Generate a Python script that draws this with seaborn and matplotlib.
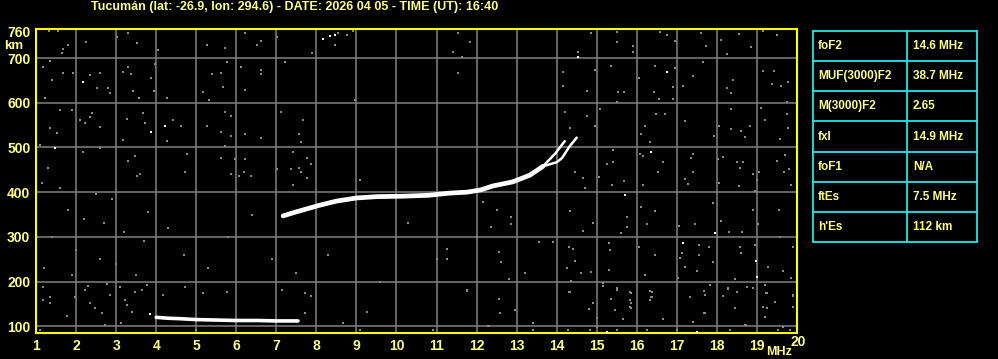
import numpy as np
import pandas as pd
import matplotlib
matplotlib.use("Agg")
import matplotlib.pyplot as plt
import seaborn as sns

# ---------------- data ----------------
title_text = "Tucumán (lat: -26.9, lon: 294.6) - DATE: 2026 04 05 - TIME (UT): 16:40"

x_ticks = list(range(1, 21))
y_ticks = [100, 200, 300, 400, 500, 600, 700, 760]

# F2 trace (ordinary, main body)
f2_freq = [7.17, 7.5, 8.09, 8.5, 9.0, 9.5, 10.16, 10.8, 11.34, 11.76, 12.1, 12.41, 12.9, 13.33, 13.66]
f2_height = [347, 356, 371, 380, 387, 390, 391, 393, 398, 400, 405, 414, 423, 438, 458]
# upper split branches near foF2 / fxI
br1_freq = [13.66, 13.98, 14.13, 14.2]
br1_height = [458, 488, 506, 514]
br2_freq = [13.66, 14.0, 14.13, 14.31, 14.5]
br2_height = [458, 467, 476, 501, 522]
# sporadic E trace
es_freq = [4.0, 4.3, 4.6, 5.0, 5.5, 6.0, 6.5, 7.0, 7.54]
es_height = [120, 118, 117, 115, 114, 113, 113, 112, 112]

# background noise (grey)
noise_freq = [
    3.30, 3.17, 3.97, 3.37, 3.87, 3.42, 3.95, 4.27, 3.57, 3.67, 3.27, 3.72, 4.42, 4.62, 4.27, 3.17, 4.77, 4.72, 3.47, 3.52,
    5.39, 5.62, 5.67, 5.17, 5.32, 5.77, 6.12, 6.62, 6.62, 6.22, 5.72, 5.87, 5.27, 5.62, 5.87, 5.72, 6.22, 6.62, 5.62, 5.97,
    6.22, 5.87, 6.19, 6.07, 6.37, 7.22, 7.12, 7.67, 7.57, 7.62, 7.42, 7.77, 7.87, 7.37, 7.57, 7.62, 7.77, 7.42, 7.02, 8.97,
    9.09, 11.54,
    12.16, 12.51, 12.86, 12.86, 12.36, 11.26, 11.26, 12.56, 12.61, 13.21, 12.81, 11.76, 12.56, 12.59, 12.96, 12.31, 13.56, 13.91,
    14.33, 14.66, 14.91, 14.31, 14.41, 14.46, 14.26, 14.61, 14.86, 14.36, 14.31, 14.91, 14.81, 15.01, 15.31, 15.33, 15.31, 15.16,
    15.51, 15.36, 15.46, 15.66, 15.76, 15.76, 15.61, 16.11, 16.26, 16.46, 16.06, 16.46, 16.21, 16.33, 16.36, 15.86, 15.86, 15.86,
    16.66, 17.06, 17.46, 17.91, 17.13, 17.08, 17.21, 17.56, 17.81, 17.56, 17.51, 17.91, 17.03, 17.68, 17.33, 17.68, 17.41, 18.11,
    18.31, 18.63, 18.90, 19.03, 18.58, 18.60, 18.95, 19.28, 19.65, 19.55, 19.58, 19.90, 19.85, 18.45, 18.90, 19.23, 19.45, 19.15,
    19.20, 19.90, 18.45, 18.73, 19.65, 18.28, 18.15,
    1.33, 1.55, 1.67, 1.79, 1.35, 1.65, 1.92, 1.17, 1.67, 2.25, 1.40, 2.35, 2.60, 2.52, 2.80, 2.85, 1.22, 1.60, 1.90, 1.35,
    2.10, 2.35, 2.40, 2.60, 2.22, 1.52, 1.10, 2.17, 2.60,
    1.17, 1.35, 1.35, 1.17, 1.77, 1.97, 2.35, 2.47, 2.65, 2.72, 2.22, 2.30, 2.77, 2.85, 3.10, 3.22, 3.27, 3.40, 3.12, 3.47,
    3.65, 3.77, 4.17, 4.17, 4.72, 5.17, 5.77, 7.14, 7.72, 7.87, 7.72, 9.26, 8.67, 11.76, 12.29,
    14.86, 15.51, 15.51, 15.91, 15.91, 16.58, 16.76, 16.96, 17.61, 17.73, 18.10, 18.55, 18.85, 19.15, 19.50, 18.25, 14.53, 14.16,
    14.96, 15.36, 16.06, 16.46, 16.96, 17.40, 17.65, 18.40, 19.15, 19.43, 19.78, 15.53, 15.68, 15.51, 16.43, 16.56, 16.91, 16.91,
    17.16, 18.25, 18.35, 19.38, 19.60, 19.75, 14.76, 14.16, 15.08, 14.21, 14.76, 14.96, 14.33, 16.21, 16.11, 16.33, 16.48, 16.71,
    17.21, 17.93, 18.05, 18.35, 18.35, 18.60, 18.83, 18.70, 19.10, 19.20, 19.75, 19.78, 19.58, 15.41, 15.41, 15.26, 16.16, 16.08,
    16.66, 16.53, 17.40, 17.35, 17.40, 18.03, 18.15, 18.50, 18.65, 18.58, 18.90, 19.05, 19.50, 19.70, 19.68, 19.80, 19.85, 14.46,
    14.66, 14.71, 15.06, 15.38, 15.68, 16.16, 17.21, 17.28, 18.05, 18.55, 19.00, 18.95,
    6.22, 6.52, 6.62, 7.02, 5.27, 5.72, 7.89, 8.54, 8.76, 8.92, 8.47, 11.54, 11.84, 11.41, 11.64, 4.05, 3.30, 3.52, 3.02,
    15.16, 15.51, 15.83, 15.83, 15.83, 16.38, 16.38, 16.33, 17.33, 17.70, 17.70, 17.83, 18.28, 18.50, 18.75, 19.20, 19.25, 19.45,
    19.25, 19.90, 19.90, 18.70, 15.00, 14.83, 15.50, 16.26, 17.00, 18.33, 19.53, 19.83, 13.41, 13.41, 14.33, 14.28,
    1.30, 1.15, 1.60, 2.50, 2.90, 3.30, 3.60, 1.80, 2.20, 2.70, 3.20, 3.70, 1.40, 2.00, 2.60, 3.00, 3.50, 1.20, 1.90, 3.80,
    4.30, 4.70, 5.30, 5.80, 6.40, 6.90, 7.50, 8.30, 9.60, 10.30, 11.00, 12.00, 1.10, 5.00, 9.10, 10.90,
]
noise_height = [
    680, 669, 687, 664, 655, 626, 626, 611, 611, 577, 564, 554, 561, 548, 514, 517, 485, 445, 481, 436,
    664, 666, 635, 624, 606, 691, 680, 673, 664, 628, 579, 570, 548, 534, 525, 503, 530, 521, 476, 474,
    474, 440, 445, 436, 436, 691, 579, 561, 530, 512, 490, 476, 463, 452, 454, 445, 432, 416, 452, 606,
    427, 666,
    378, 360, 344, 329, 322, 273, 250, 266, 244, 219, 206, 179, 161, 130, 136, 100, 289, 289,
    358, 313, 331, 277, 273, 246, 230, 219, 221, 201, 177, 152, 139, 118, 286, 270, 226, 190,
    181, 160, 136, 116, 344, 322, 308, 367, 329, 358, 277, 259, 215, 179, 166, 174, 152, 141,
    116, 324, 329, 376, 264, 253, 232, 282, 277, 259, 224, 244, 208, 179, 166, 130, 109, 335,
    311, 311, 360, 329, 277, 264, 282, 232, 224, 360, 300, 277, 208, 206, 186, 175, 154, 143,
    121, 168, 141, 103, 99, 183, 168,
    760, 760, 720, 729, 693, 711, 666, 680, 666, 736, 651, 662, 666, 633, 633, 622, 611, 584, 584, 543,
    561, 568, 577, 546, 554, 532, 505, 490, 499,
    188, 165, 152, 159, 123, 165, 152, 141, 130, 103, 181, 190, 194, 170, 188, 159, 147, 132, 107, 177,
    181, 192, 170, 121, 188, 174, 177, 181, 174, 168, 130, 132, 107, 181, 101,
    756, 758, 736, 727, 713, 758, 751, 738, 756, 727, 740, 754, 725, 760, 751, 709, 713, 669,
    673, 682, 655, 682, 678, 660, 691, 651, 671, 671, 646, 624, 624, 602, 624, 608, 635, 608,
    637, 633, 622, 642, 637, 602, 626, 637, 586, 579, 570, 548, 543, 548, 530, 512, 575, 575,
    559, 525, 548, 586, 541, 537, 548, 523, 588, 561, 575, 543, 519, 494, 467, 463, 481, 485,
    467, 445, 485, 476, 445, 474, 478, 467, 467, 454, 440, 445, 470, 483, 445, 452, 416, 445,
    432, 409, 434, 416, 425, 416, 429, 418, 420, 414, 427, 402,
    756, 729, 738, 747, 729, 722, 711, 756, 751, 760, 729, 756, 736, 713, 702, 718, 756, 734, 747,
    197, 186, 177, 159, 143, 177, 166, 159, 166, 170, 130, 192, 186, 177, 188, 192, 174, 154,
    141, 170, 143, 103, 99, 92, 92, 92, 92, 92, 92, 92, 107, 92, 177, 92,
    455, 420, 410, 395, 385, 470, 440, 360, 340, 330, 310, 290, 300, 270, 250, 240, 215, 230, 215, 355,
    320, 260, 230, 300, 350, 250, 220, 260, 200, 330, 250, 300, 92, 92, 92, 92,
]
# a few bright isolated echoes
bright_freq = [3.87, 4.22, 2.17, 1.47, 8.17, 8.34, 8.47, 14.53, 16.76, 16.36, 15.71, 17.96, 17.16, 18.98, 19.00, 15.26, 17.50, 3.85]
bright_height = [534, 548, 646, 499, 742, 749, 751, 702, 669, 490, 394, 308, 286, 246, 210, 87, 88, 127]

table_params = ["foF2", "MUF(3000)F2", "M(3000)F2", "fxI", "foF1", "ftEs", "h'Es"]
table_values = ["14.6 MHz", "38.7 MHz", "2.65", "14.9 MHz", "N/A", "7.5 MHz", "112 km"]

# ---------------- style ----------------
W, H = 998, 359
sns.set_theme(style="dark")
FONT = ["Liberation Sans", "DejaVu Sans"]
plt.rcParams["font.family"] = FONT
YEL = "#ffff80"
BORDER = "#ffff00"
GRID = "#808080"
CYAN = "#20e8e8"

fig = plt.figure(figsize=(W / 100, H / 100), dpi=100, facecolor="black")
ax = fig.add_axes([36 / W, (H - 333) / H, (797 - 36) / W, (333 - 29) / H])
ax.set_facecolor("black")

noise = pd.DataFrame({"f": noise_freq, "h": noise_height})
bright = pd.DataFrame({"f": bright_freq, "h": bright_height})
f2 = pd.DataFrame({"f": f2_freq, "h": f2_height})
b1 = pd.DataFrame({"f": br1_freq, "h": br1_height})
b2 = pd.DataFrame({"f": br2_freq, "h": br2_height})
es = pd.DataFrame({"f": es_freq, "h": es_height})

sns.scatterplot(data=noise, x="f", y="h", ax=ax, marker="s", s=4.5, color="#8a8a8a", linewidth=0, zorder=3)
sns.scatterplot(data=bright, x="f", y="h", ax=ax, marker="s", s=4.5, color="white", linewidth=0, zorder=4)
sns.lineplot(data=f2, x="f", y="h", ax=ax, color="white", linewidth=3.4, sort=False, zorder=5)
sns.lineplot(data=b1, x="f", y="h", ax=ax, color="white", linewidth=1.8, sort=False, zorder=5)
sns.lineplot(data=b2, x="f", y="h", ax=ax, color="white", linewidth=1.8, sort=False, zorder=5)
sns.lineplot(data=es, x="f", y="h", ax=ax, color="white", linewidth=2.6, sort=False, zorder=5)

ax.set_xlim(1, 20)
ax.set_ylim(85, 765)
ax.set_xticks(x_ticks)
ax.set_yticks(y_ticks)
ax.set_xticklabels([str(t) if t != 20 else "" for t in x_ticks])
ax.set_yticklabels([str(t) for t in y_ticks])
ax.tick_params(axis="both", length=0, colors=YEL, labelsize=10)
for lab in ax.get_xticklabels() + ax.get_yticklabels():
    lab.set_fontweight("bold")
ax.tick_params(axis="x", pad=4)
ax.tick_params(axis="y", pad=4)
ax.set_xlabel("")
ax.set_ylabel("")

# grid
ax.grid(False)
for t in x_ticks[1:-1]:
    ax.axvline(t, color=GRID, lw=1.1, zorder=1)
for t in [100, 200, 300, 400, 500, 600, 700]:
    ax.axhline(t, color=GRID, lw=1.1, zorder=1)

for s in ax.spines.values():
    s.set_visible(True)
    s.set_color(BORDER)
    s.set_linewidth(1.5)

fig.text(91 / W, 1 - 7 / H, title_text, color=YEL, fontsize=9, fontweight="bold",
         ha="left", va="center")
fig.text(14 / W, 1 - 46 / H, "km", color=YEL, fontsize=9.5, fontweight="bold", ha="center", va="center")
fig.text(779 / W, 1 - 352 / H, "MHz", color=YEL, fontsize=9, fontweight="bold", ha="center", va="center")
fig.text(798 / W, 1 - 342 / H, "20", color=YEL, fontsize=10, fontweight="bold", ha="center", va="center")

# parameter table
tx0, tx1, tsplit = 813, 977, 907
ty0, ty1 = 31, 242
tab = fig.add_axes([tx0 / W, (H - ty1) / H, (tx1 - tx0) / W, (ty1 - ty0) / H])
tab.set_xlim(tx0, tx1)
tab.set_ylim(ty1, ty0)
tab.set_facecolor("black")
tab.axis("off")
n = len(table_params)
rh = (ty1 - ty0) / n
for i in range(n + 1):
    tab.plot([tx0, tx1], [ty0 + i * rh] * 2, color=CYAN, lw=1.3, clip_on=False)
for xx in [tx0, tsplit, tx1]:
    tab.plot([xx, xx], [ty0, ty1], color=CYAN, lw=1.3, clip_on=False)
for i, (p, v) in enumerate(zip(table_params, table_values)):
    yc = ty0 + (i + 0.5) * rh
    tab.text(tx0 + 5, yc, p, color=YEL, fontsize=8.5, fontweight="bold", ha="left", va="center")
    tab.text(tsplit + 6, yc, v, color=YEL, fontsize=8.5, fontweight="bold", ha="left", va="center")

fig.savefig("out.png", dpi=100, facecolor="black")
